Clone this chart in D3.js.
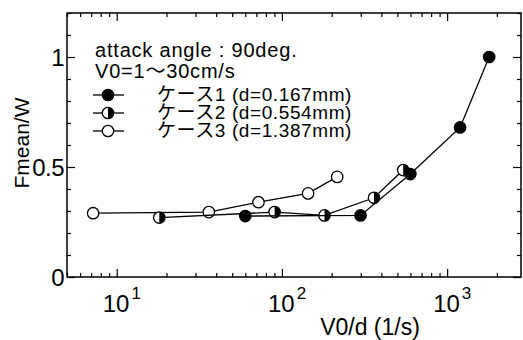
<!DOCTYPE html>
<html><head><meta charset="utf-8">
<script src="https://cdn.jsdelivr.net/npm/d3@7"></script>
<style>body{margin:0;background:#fff}</style>
</head><body>
<svg id="chart" width="523" height="340"></svg>
<script>
// Series: V0/d (1/s) against Fmean/W
const seriesNames = ["ケース1 (d=0.167mm)", "ケース2 (d=0.554mm)", "ケース3 (d=1.387mm)"];
const seriesMarkers = ["filled", "half", "open"];
const case1X = [60, 299, 599, 1198, 1796];
const case1Y = [0.277, 0.28, 0.468, 0.68, 1.0];
const case2X = [18.1, 90.3, 181, 361, 542];
const case2Y = [0.27, 0.295, 0.28, 0.36, 0.486];
const case3X = [7.2, 36.1, 72.1, 144, 216];
const case3Y = [0.29, 0.295, 0.34, 0.38, 0.455];
const yTickValues = [0, 0.5, 1];
const yTickLabels = ["0", "0.5", "1"];
const xDecades = [10, 100, 1000];
const xDecadeExponents = ["1", "2", "3"];
const noteLines = ["attack angle : 90deg.", "V0=1～30cm/s"];
const xTitle = "V0/d (1/s)";
const yTitle = "Fmean/W";

const series = [
  {name: seriesNames[0], marker: seriesMarkers[0], xs: case1X, ys: case1Y},
  {name: seriesNames[1], marker: seriesMarkers[1], xs: case2X, ys: case2Y},
  {name: seriesNames[2], marker: seriesMarkers[2], xs: case3X, ys: case3Y}
];

const svg = d3.select("#chart");
const L = 67, R = 521, T = 13, B = 277;
const font = "'Liberation Sans', Arial, Helvetica, sans-serif";
const cjk = "'Liberation Sans', 'Noto Sans CJK JP', sans-serif";

const x = d3.scaleLog().domain([5, 2800]).range([L, R]);
const y = d3.scaleLinear().domain([0, 1.2]).range([B, T]);

// minor tick positions on the log axis
const xMinor = [];
for (let p = 1; p <= 1000; p *= 10)
  for (let m = 1; m <= 9; m++) {
    const v = m * p;
    if (v >= 5 && v <= 2800 && !xDecades.includes(v)) xMinor.push(v);
  }
const yMinor = d3.range(0, 1.21, 0.1).map(v => +v.toFixed(2)).filter(v => !yTickValues.includes(v));

function tickGroup(axis, tx, ty) {
  const g = svg.append("g").attr("transform", `translate(${tx},${ty})`).call(axis);
  g.select(".domain").remove();
  g.selectAll("line").attr("stroke", "#000").attr("stroke-width", 1.2);
  g.selectAll("text").remove();
  return g;
}
// inward ticks on all four sides
tickGroup(d3.axisBottom(x).tickValues(xMinor).tickSize(-4), 0, B);
tickGroup(d3.axisBottom(x).tickValues(xDecades).tickSize(-8), 0, B);
tickGroup(d3.axisTop(x).tickValues(xMinor).tickSize(-4), 0, T);
tickGroup(d3.axisTop(x).tickValues(xDecades).tickSize(-8), 0, T);
tickGroup(d3.axisLeft(y).tickValues(yMinor).tickSize(-4), L, 0);
tickGroup(d3.axisLeft(y).tickValues(yTickValues).tickSize(-8), L, 0);
tickGroup(d3.axisRight(y).tickValues(yMinor).tickSize(-4), R, 0);
tickGroup(d3.axisRight(y).tickValues(yTickValues).tickSize(-8), R, 0);

// frame
svg.append("rect").attr("x", L).attr("y", T).attr("width", R - L).attr("height", B - T)
  .attr("fill", "none").attr("stroke", "#000").attr("stroke-width", 1.5);

// y tick labels
svg.selectAll(".ylab").data(yTickValues).join("text")
  .attr("x", L - 3).attr("y", d => y(d) + 9)
  .attr("text-anchor", "end").attr("font-family", font).attr("font-size", 24)
  .attr("letter-spacing", -0.5)
  .text((d, i) => yTickLabels[i]);

// x tick labels with superscript exponents
xDecades.forEach((d, i) => {
  const t = svg.append("text").attr("x", x(d) - 14).attr("y", 312)
    .attr("text-anchor", "start").attr("font-family", font).attr("font-size", 24);
  t.append("tspan").text("10");
  t.append("tspan").attr("dy", -13).attr("dx", 2).attr("font-size", 17).text(xDecadeExponents[i]);
});

// axis titles
svg.append("text").attr("x", 370).attr("y", 335).attr("text-anchor", "middle")
  .attr("font-family", font).attr("font-size", 23).text(xTitle);
svg.append("text").attr("transform", "translate(29,143) rotate(-90)").attr("text-anchor", "middle")
  .attr("font-family", font).attr("font-size", 21).text(yTitle);

// lines and markers
const line = d3.line().x(d => x(d[0])).y(d => y(d[1]));
const r = 5.7;
function drawMarker(g, kind) {
  g.append("circle").attr("r", r).attr("fill", kind === "filled" ? "#000" : "#fff")
    .attr("stroke", "#000").attr("stroke-width", 1.3);
  if (kind === "half") {
    g.append("path").attr("d", `M0,${-r}A${r},${r} 0 0 1 0,${r}Z`).attr("fill", "#000");
  }
}
series.slice().reverse().forEach(s => {
  const pts = s.xs.map((v, i) => [v, s.ys[i]]);
  svg.append("path").datum(pts).attr("d", line).attr("fill", "none")
    .attr("stroke", "#000").attr("stroke-width", 1.3);
  pts.forEach(p => {
    const g = svg.append("g").attr("transform", `translate(${x(p[0])},${y(p[1])})`);
    drawMarker(g, s.marker);
  });
});

// annotation and legend
noteLines.forEach((t, i) => {
  svg.append("text").attr("x", 95).attr("y", 57 + i * 21)
    .attr("font-family", cjk).attr("font-size", 20).attr("letter-spacing", 0.8).text(t);
});
series.forEach((s, i) => {
  const yy = 95 + i * 18;
  svg.append("line").attr("x1", 93).attr("x2", 124).attr("y1", yy).attr("y2", yy)
    .attr("stroke", "#000").attr("stroke-width", 1.3);
  const g = svg.append("g").attr("transform", `translate(108,${yy})`);
  drawMarker(g, s.marker);
  svg.append("text").attr("x", 157).attr("y", yy + 6)
    .attr("font-family", cjk).attr("font-size", 19).attr("letter-spacing", 0.6).text(s.name);
});
</script>
</body></html>
